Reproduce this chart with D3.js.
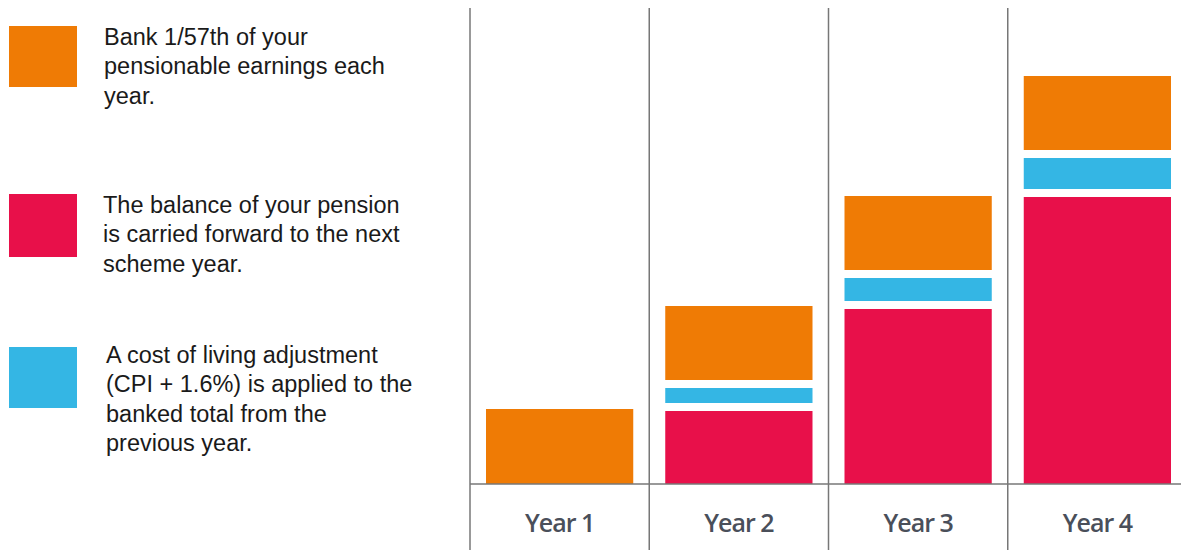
<!DOCTYPE html>
<meta charset="utf-8">
<style>
body{
	margin:0;
	background:#fff;
}
.legend text{
	font-family:"Liberation Sans", Arial, sans-serif;
	font-size:23.5px;
	fill:#1a1a1a;
}
.year{
	font-family:"Open Sans", sans-serif;
	font-weight:600;
	font-size:25px;
	fill:#4a4f5a;
	text-anchor:middle;
	letter-spacing:-1px;
}
.grid{
	stroke:#777;
	stroke-width:1.5px;
}
</style>
<body>
<script src="https://cdn.jsdelivr.net/npm/d3@7"></script>
<script>

var years=["Year 1","Year 2","Year 3","Year 4"];
var carried=[0, 73, 175, 287];
var adjustment=[0, 15, 23, 31];
var banked=[75, 74, 74, 74];

var bankedText=["Bank 1/57th of your","pensionable earnings each","year."];
var carriedText=["The balance of your pension","is carried forward to the next","scheme year."];
var adjustText=["A cost of living adjustment","(CPI + 1.6%) is applied to the","banked total from the","previous year."];

var color={banked:"#ef7b05", carried:"#e8104a", adjustment:"#34b6e4"};

var W=1181, H=550, gap=8;
var svg=d3.select("body").append("svg").attr("width",W).attr("height",H);

var x=d3.scaleBand().domain(years).range([470,1187]);
var y=d3.scaleLinear().domain([0,476]).range([484,8]);

// stack: carried at bottom, then adjustment, then banked, with white gaps between
var stacks=years.map(function(yr,i){
	var segs=[["carried",carried[i]],["adjustment",adjustment[i]],["banked",banked[i]]];
	var cum=0, out=[];
	segs.forEach(function(s){
		if(s[1]<=0) return;
		if(out.length) cum+=gap;
		out.push({year:yr,key:s[0],y0:cum,y1:cum+s[1]});
		cum+=s[1];
	});
	return out;
});

var bars=svg.append("g");
stacks.forEach(function(st){
	bars.selectAll(null).data(st).enter().append("rect")
		.attr("x",d=>x(d.year)+16)
		.attr("width",x.bandwidth()-32)
		.attr("y",d=>y(d.y1))
		.attr("height",d=>y(d.y0)-y(d.y1))
		.attr("fill",d=>color[d.key]);
});

// grid lines
svg.selectAll(".vline").data(years).enter().append("line").attr("class","grid")
	.attr("x1",d=>x(d)).attr("x2",d=>x(d))
	.attr("y1",8).attr("y2",H);
svg.append("line").attr("class","grid")
	.attr("x1",470).attr("x2",W).attr("y1",y(0)).attr("y2",y(0));

svg.selectAll(".year").data(years).enter().append("text").attr("class","year")
	.attr("x",d=>x(d)+x.bandwidth()/2)
	.attr("y",532)
	.text(d=>d);

// legend
var legend=svg.append("g").attr("class","legend");
var items=[
	{key:"banked",lines:bankedText,sy:26,sh:61,tx:104,ty:45},
	{key:"carried",lines:carriedText,sy:194,sh:63,tx:103,ty:213},
	{key:"adjustment",lines:adjustText,sy:347,sh:61,tx:106,ty:363}
];
items.forEach(function(it){
	legend.append("rect").attr("x",9).attr("y",it.sy).attr("width",68).attr("height",it.sh)
		.attr("fill",color[it.key]);
	var t=legend.append("text").attr("x",it.tx).attr("y",it.ty);
	t.selectAll("tspan").data(it.lines).enter().append("tspan")
		.attr("x",it.tx).attr("dy",(d,i)=>i? 29.3: 0)
		.text(d=>d);
});
</script>
</body>
</html>
